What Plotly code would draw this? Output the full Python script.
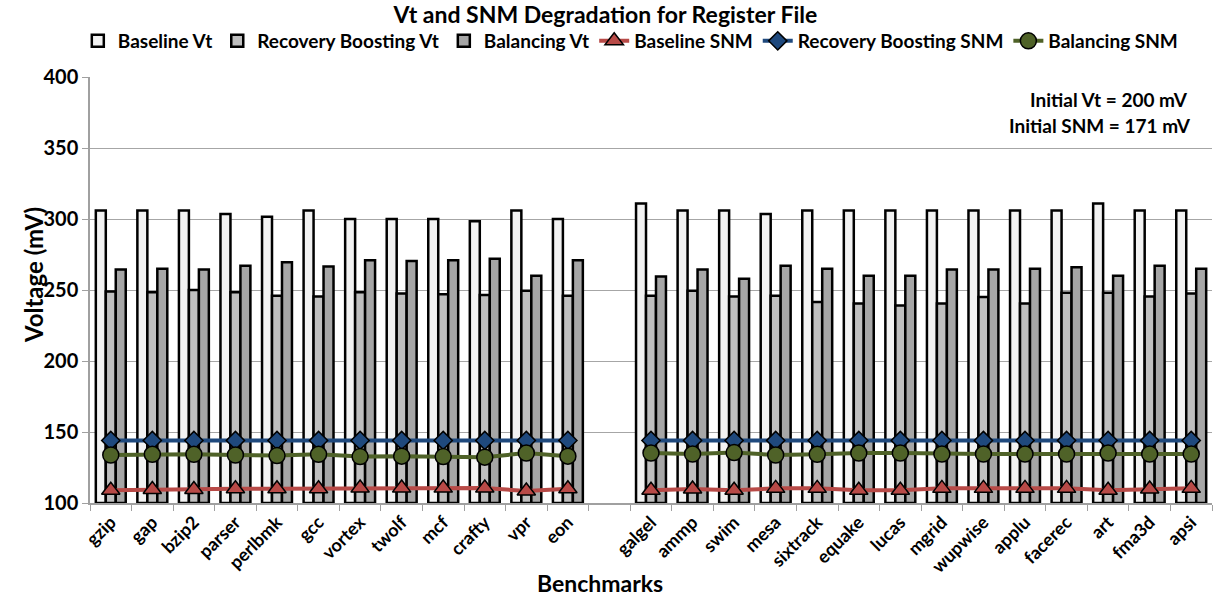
import plotly.graph_objects as go

categories = ["gzip", "gap", "bzip2", "parser", "perlbmk", "gcc", "vortex", "twolf", "mcf", "crafty", "vpr", "eon",
              " ",
              "galgel", "ammp", "swim", "mesa", "sixtrack", "equake", "lucas", "mgrid", "wupwise", "applu",
              "facerec", "art", "fma3d", "apsi"]

baseline_vt = [306, 306, 306, 303.5, 301.5, 306, 300, 300, 300, 298.5, 306, 300,
               None,
               311, 306, 306, 303.5, 306, 306, 306, 306, 306, 306, 306, 311, 306, 306]
recovery_vt = [249, 248.5, 250, 248.5, 246, 245.5, 248.5, 247.5, 247, 246.5, 249.5, 246,
               None,
               246, 249.5, 245.5, 246, 241.5, 240.5, 239, 240.5, 245, 240.5, 248, 248, 245.5, 247.5]
balancing_vt = [264.5, 265, 264.5, 267, 269.5, 266.5, 271, 270.5, 271, 272, 260, 271,
                None,
                259.5, 264.5, 258, 267, 265, 260, 260, 264.5, 264.5, 265, 266, 260, 267, 265]
baseline_snm = [109, 109.5, 109.5, 110, 110, 110, 110.5, 110.5, 110.5, 110.5, 108.5, 110,
                None,
                109, 109.8, 109, 110.3, 110.3, 109, 109, 110.3, 110.3, 110.3, 110.3, 109, 109.8, 110.3]
recovery_snm = [144] * 12 + [None] + [144] * 14
balancing_snm = [133.8, 134.3, 134.3, 133.8, 133.4, 134.3, 132.7, 133, 132.7, 132.3, 135.2, 133,
                 None,
                 135.2, 134.5, 135.5, 133.8, 134.3, 135.2, 135.2, 134.5, 134.5, 134.5, 134.5, 135.2, 134.5, 134.5]

FONT = "Lato"
fig = go.Figure()

bar_specs = [("Baseline Vt", baseline_vt, "#f2f2f2"),
             ("Recovery Boosting Vt", recovery_vt, "#bfbfbf"),
             ("Balancing Vt", balancing_vt, "#a6a6a6")]
for name, vals, col in bar_specs:
    fig.add_trace(go.Bar(x=categories, y=[None if v is None else v - 100 for v in vals], base=100,
                         name="<b>" + name + "</b>",
                         marker=dict(color=col, line=dict(color="black", width=2.5)),
                         hoverinfo="y"))

line_specs = [("Baseline SNM", baseline_snm, "#b84a47", "triangle-up", 16),
              ("Recovery Boosting SNM", recovery_snm, "#1f497d", "diamond", 14),
              ("Balancing SNM", balancing_snm, "#4f6228", "circle", 16)]
for name, vals, col, sym, sz in line_specs:
    fig.add_trace(go.Scatter(x=categories, y=vals, name="<b>" + name + "</b>", mode="lines+markers",
                             connectgaps=False,
                             line=dict(color=col, width=4),
                             marker=dict(symbol=sym, size=sz, color=col,
                                         line=dict(color="black", width=1.5))))

fig.add_annotation(text="<b>Initial Vt = 200 mV</b>", xref="paper", yref="paper",
                   x=0.98, y=0.947, xanchor="right", yanchor="middle", showarrow=False,
                   font=dict(size=19, color="black", family=FONT))
fig.add_annotation(text="<b>Initial SNM = 171 mV</b>", xref="paper", yref="paper",
                   x=0.983, y=0.885, xanchor="right", yanchor="middle", showarrow=False,
                   font=dict(size=19, color="black", family=FONT))
fig.add_annotation(text="<b>Benchmarks</b>", xref="paper", yref="paper",
                   x=0.4545, y=-0.188, xanchor="center", yanchor="middle", showarrow=False,
                   font=dict(size=23, color="black", family=FONT))
fig.add_annotation(text="<b>Voltage (mV)</b>", xref="paper", yref="paper", textangle=-90,
                   x=-0.0508, y=0.535, xanchor="center", yanchor="middle", showarrow=False,
                   font=dict(size=24, color="black", family=FONT))

fig.update_layout(
    width=1218, height=597,
    margin=dict(l=90, r=6, t=77, b=94),
    paper_bgcolor="white", plot_bgcolor="white",
    font=dict(family=FONT, color="black"),
    title=dict(text="<b>Vt and SNM Degradation for Register File</b>", x=0.497, xanchor="center",
               y=0.975, yanchor="middle", font=dict(size=23, family=FONT, color="black")),
    barmode="group", bargap=0.28, bargroupgap=0,
    legend=dict(orientation="h", x=0.482, xanchor="center", y=1.0845, yanchor="middle",
                font=dict(size=19, family=FONT, color="black"), traceorder="normal",
                itemwidth=30, tracegroupgap=0),
    showlegend=True,
)
fig.update_xaxes(type="category", categoryorder="array", categoryarray=categories,
                 range=[-0.5, len(categories) - 0.5],
                 tickangle=-45, tickson="boundaries", ticks="outside", ticklen=6, tickcolor="#a0a0a0",
                 showline=True, linecolor="#a0a0a0", linewidth=1.5, showgrid=False, automargin=False,
                 tickfont=dict(size=18, family=FONT, color="black"),
                 tickprefix="<b>", ticksuffix="</b>")
fig.update_yaxes(range=[100, 400], dtick=50, tick0=100, showgrid=True, gridcolor="#a6a6a6", gridwidth=1.2,
                 showline=True, linecolor="#a0a0a0", linewidth=1.5, ticks="outside", ticklen=6,
                 tickcolor="#a0a0a0", zeroline=False, automargin=False,
                 tickfont=dict(size=20, family=FONT, color="black"),
                 tickprefix="<b>", ticksuffix="</b>")

# remove the browser's default 8px body margin so the figure fills the window exactly
fig.write_html("out.html", config={"displayModeBar": False},
               post_script="document.body.style.margin='0px';")
